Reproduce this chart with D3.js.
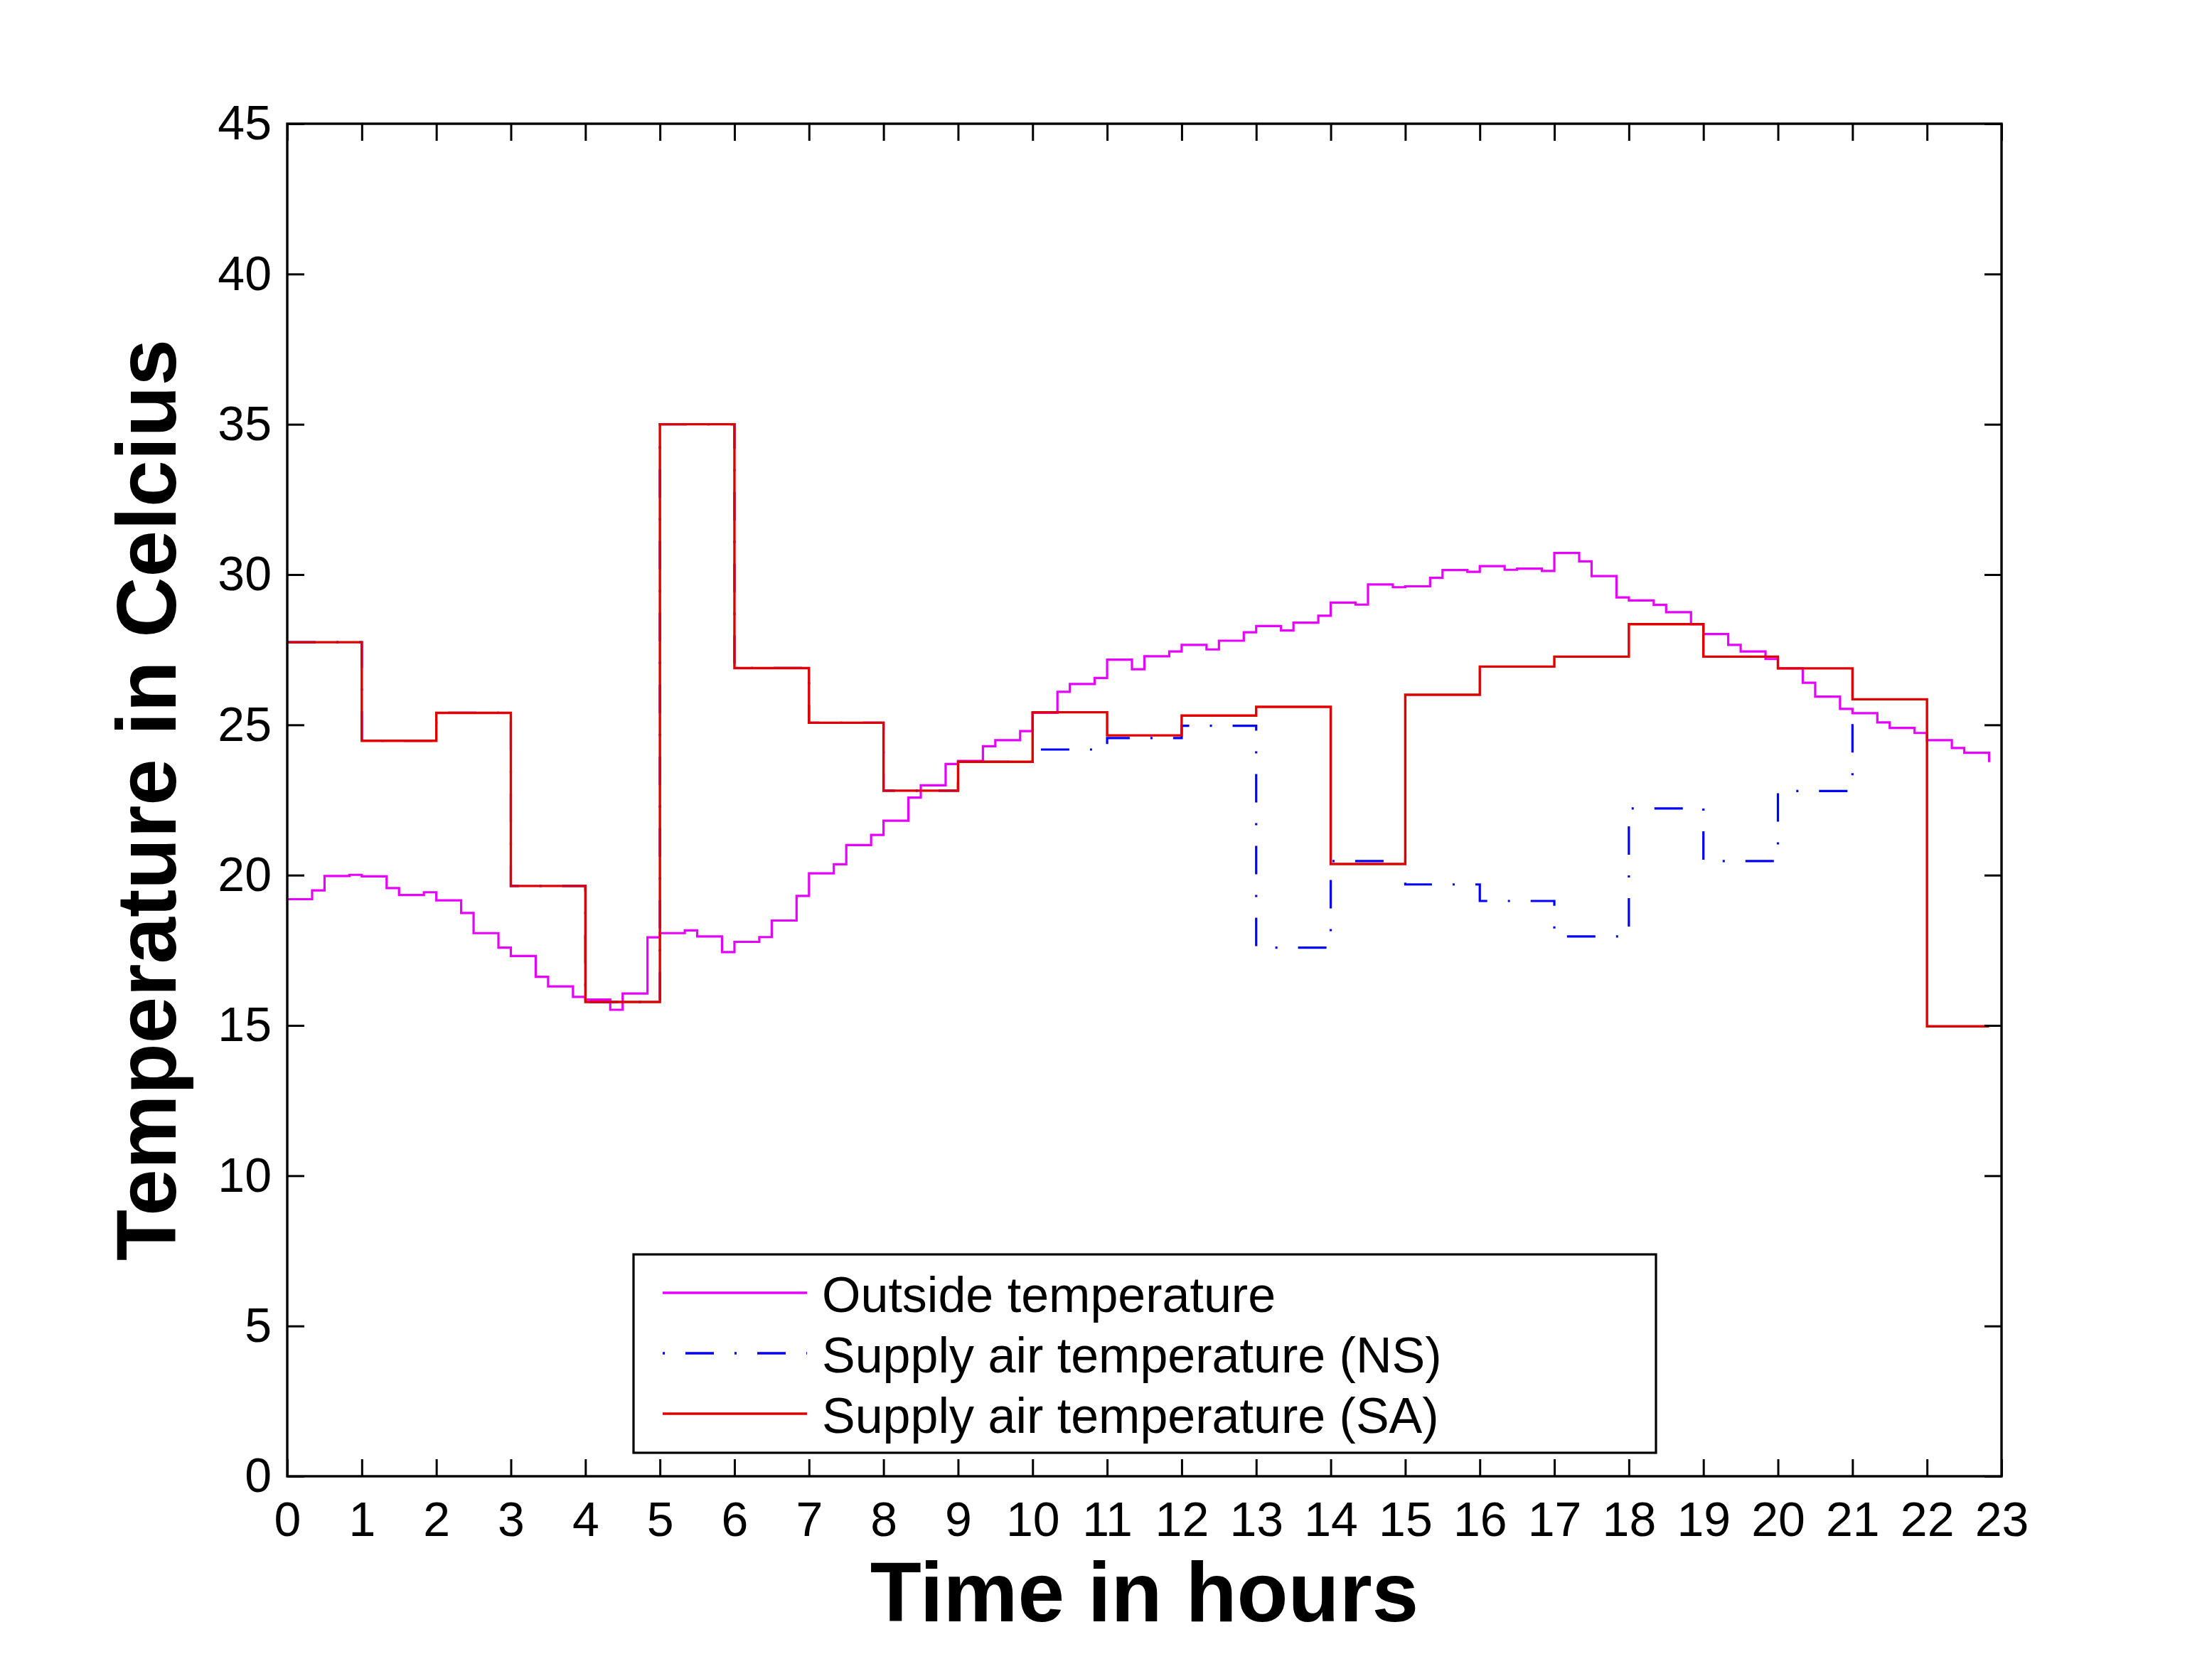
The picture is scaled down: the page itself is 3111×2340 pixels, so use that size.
<!DOCTYPE html>
<html>
<head>
<meta charset="utf-8">
<script src="https://cdn.jsdelivr.net/npm/d3@7"></script>
<style>
  html, body { margin: 0; padding: 0; background: #ffffff; }
  svg { display: block; }
</style>
</head>
<body>
<script>
// ---------------- DATA ----------------
const hourTicks = d3.range(0, 24);            // x tick labels 0..23
const tempTicks = [0, 5, 10, 15, 20, 25, 30, 35, 40, 45];

// Outside temperature: samples at hh:00, hh:20, hh:30, hh:50 for hours 0..22
const sampleMinutes = [0, 20, 30, 50];
const outsideTemp = [
  19.20, 19.49, 19.97, 20.01,
  19.96, 19.57, 19.34, 19.43,
  19.16, 18.74, 18.07, 17.59,
  17.31, 16.62, 16.30, 15.95,
  15.86, 15.52, 16.06, 17.93,
  18.07, 18.16, 17.96, 17.44,
  17.78, 17.94, 18.49, 19.31,
  20.06, 20.36, 21.00, 21.34,
  21.81, 22.58, 22.99, 23.70,
  23.80, 24.29, 24.49, 24.79,
  25.40, 26.10, 26.36, 26.56,
  27.17, 26.85, 27.28, 27.44,
  27.66, 27.51, 27.80, 28.08,
  28.29, 28.14, 28.40, 28.63,
  29.07, 29.00, 29.67, 29.58,
  29.61, 29.89, 30.15, 30.09,
  30.28, 30.16, 30.20, 30.12,
  30.72, 30.44, 29.95, 29.24,
  29.14, 28.99, 28.75, 28.35,
  28.02, 27.66, 27.44, 27.19,
  26.88, 26.40, 25.94, 25.53,
  25.39, 25.08, 24.90, 24.73,
  24.49, 24.23, 24.07, 23.76
];

// Supply air temperature (NS), hourly from 0h; last value is the end point at 21h
const supplyNS = [27.75, 24.47, 25.40, 19.64, 15.78, 35.00, 26.89, 25.07, 22.81, 23.77,
                  24.18, 24.56, 24.97, 17.59, 20.47, 19.69, 19.14, 17.96, 22.22, 20.47,
                  22.80, 25.42];

// Supply air temperature (SA), hourly from 0h to 22h
const supplySA = [27.75, 24.47, 25.40, 19.64, 15.78, 35.00, 26.89, 25.07, 22.81, 23.77,
                  25.42, 24.65, 25.31, 25.60, 20.37, 26.00, 26.94, 27.27, 28.35, 27.27,
                  26.88, 25.85, 14.97];
const lastSampleTime = 22 + 50 / 60;

const seriesNames = ["Outside temperature", "Supply air temperature (NS)", "Supply air temperature (SA)"];
const seriesColors = ["#e600ff", "#0000ff", "#e00000"];

// ---------------- BUILD POINT LISTS ----------------
const outsidePts = outsideTemp.map((v, i) => ({
  t: Math.floor(i / 4) + sampleMinutes[i % 4] / 60, v
}));
const nsPts = supplyNS.map((v, i) => ({ t: i, v }));
const saPts = supplySA.map((v, i) => ({ t: i, v }));
saPts.push({ t: lastSampleTime, v: supplySA[supplySA.length - 1] });

// ---------------- LAYOUT ----------------
const W = 3111, H = 2340;
const L = 404, R = 2815, T = 174, B = 2076;
const FONT = "'Liberation Sans', Arial, Helvetica, sans-serif";

const svg = d3.select("body").append("svg")
  .attr("width", W).attr("height", H)
  .attr("viewBox", `0 0 ${W} ${H}`);
svg.append("rect").attr("width", W).attr("height", H).attr("fill", "#fff");

const x = d3.scaleLinear().domain([0, 23]).range([L, R]);
const y = d3.scaleLinear().domain([0, 45]).range([B, T]);

// ---------------- LINES ----------------
const line = d3.line().x(d => x(d.t)).y(d => y(d.v)).curve(d3.curveStepAfter);

const plot = svg.append("g");
plot.append("path").datum(outsidePts)
  .attr("d", line).attr("fill", "none")
  .attr("stroke", seriesColors[0]).attr("stroke-width", 3.2);
plot.append("path").datum(nsPts)
  .attr("d", line).attr("fill", "none")
  .attr("stroke", seriesColors[1]).attr("stroke-width", 3.2)
  .attr("stroke-dasharray", "40 29 3 29");
plot.append("path").datum(saPts)
  .attr("d", line).attr("fill", "none")
  .attr("stroke", seriesColors[2]).attr("stroke-width", 3.4);

// ---------------- AXES ----------------
function styleAxis(g) {
  g.select(".domain").remove();
  g.selectAll(".tick line").attr("stroke", "#000").attr("stroke-width", 3);
  g.selectAll(".tick text").attr("fill", "#000")
    .attr("font-family", FONT).attr("font-size", 68);
}

svg.append("g").attr("transform", `translate(0,${B})`)
  .call(d3.axisBottom(x).tickValues(hourTicks).tickFormat(d3.format("d"))
    .tickSize(-24).tickSizeOuter(0).tickPadding(36))
  .call(styleAxis);

svg.append("g").attr("transform", `translate(0,${T})`)
  .call(d3.axisTop(x).tickValues(hourTicks).tickFormat("")
    .tickSize(-24).tickSizeOuter(0))
  .call(styleAxis);

svg.append("g").attr("transform", `translate(${L},0)`)
  .call(d3.axisLeft(y).tickValues(tempTicks).tickFormat(d3.format("d"))
    .tickSize(-24).tickSizeOuter(0).tickPadding(22))
  .call(styleAxis);

svg.append("g").attr("transform", `translate(${R},0)`)
  .call(d3.axisRight(y).tickValues(tempTicks).tickFormat("")
    .tickSize(-24).tickSizeOuter(0))
  .call(styleAxis);

// frame
svg.append("rect")
  .attr("x", L).attr("y", T).attr("width", R - L).attr("height", B - T)
  .attr("fill", "none").attr("stroke", "#000").attr("stroke-width", 3.4);

// ---------------- TITLES ----------------
svg.append("text")
  .attr("x", (L + R) / 2).attr("y", 2280)
  .attr("text-anchor", "middle")
  .attr("font-family", FONT).attr("font-weight", "bold").attr("font-size", 118)
  .text("Time in hours");

svg.append("text")
  .attr("transform", `translate(247,${(T + B) / 2}) rotate(-90)`)
  .attr("text-anchor", "middle")
  .attr("font-family", FONT).attr("font-weight", "bold").attr("font-size", 118)
  .text("Temperature in Celcius");

// ---------------- LEGEND ----------------
const lg = svg.append("g");
lg.append("rect")
  .attr("x", 891).attr("y", 1764).attr("width", 1438).attr("height", 279)
  .attr("fill", "#fff").attr("stroke", "#000").attr("stroke-width", 3.2);

const rowBase = [1845, 1930, 2015];
seriesNames.forEach((name, i) => {
  const ly = rowBase[i] - 27;
  const l = lg.append("line")
    .attr("x1", 932).attr("x2", 1135).attr("y1", ly).attr("y2", ly)
    .attr("stroke", seriesColors[i]).attr("stroke-width", 3.4);
  if (i === 1) l.attr("stroke-dasharray", "3 29 40 29");
  lg.append("text")
    .attr("x", 1156).attr("y", rowBase[i])
    .attr("font-family", FONT).attr("font-size", 70).attr("fill", "#000")
    .text(name);
});
</script>
</body>
</html>
